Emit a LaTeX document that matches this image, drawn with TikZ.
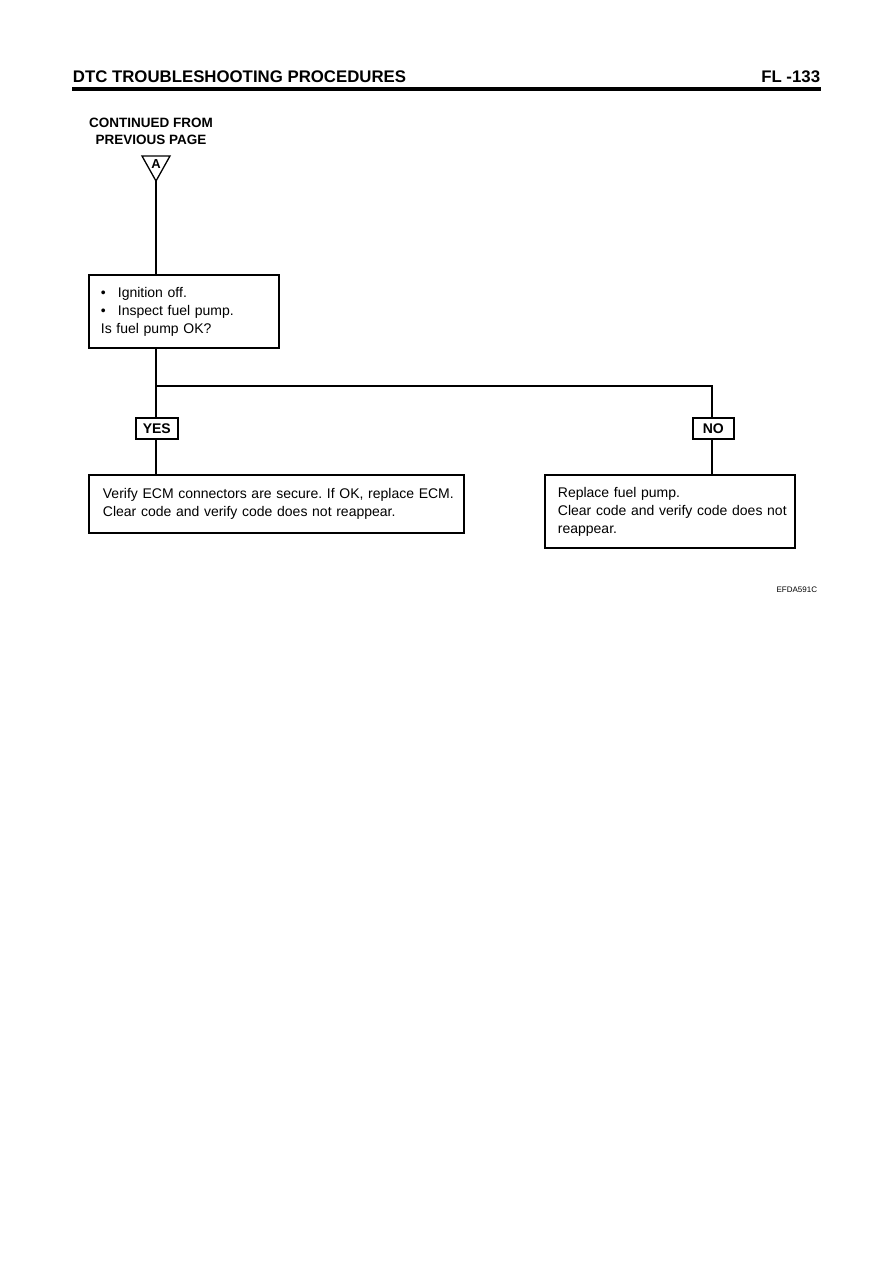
\documentclass[tikz,border=0pt]{standalone}
\usepackage{fontspec}
\setmainfont{Liberation Sans}
\frenchspacing
\begin{document}
\begin{tikzpicture}[x=1pt,y=-1pt,
  line width=1.8pt,
  box/.style={draw, line width=1.8pt, anchor=north west, inner xsep=0pt, inner ysep=0pt,
    font=\fontsize{14}{18}\selectfont, align=left},
  tag/.style={draw, line width=1.6pt, anchor=north west, inner sep=0pt,
    font=\fontsize{14}{14}\selectfont\bfseries},
  conn/.style={line width=1.8pt}]
\useasboundingbox[fill=white] (0,0) rectangle (893,1263);

% header
\node[anchor=base west, inner sep=0pt, font=\fontsize{16.8}{18}\selectfont\bfseries] (hdr) at (72,82) {DTC TROUBLESHOOTING PROCEDURES};
\node[anchor=base east, inner sep=0pt, font=\fontsize{16.8}{18}\selectfont\bfseries] (pg) at (821,82) {FL -133};
\coordinate (r1) at (72,89);
\coordinate (r2) at (821,89);
\draw[line width=3.5pt] (r1) -- (r2);

% continued from
\node[anchor=north, inner sep=0pt, align=center, font=\fontsize{13.5}{17}\selectfont\bfseries] (cont) at (151,117) {CONTINUED FROM\\PREVIOUS PAGE};

% connector triangle A
\coordinate (tl) at (142,156);
\coordinate (tr) at (170,156);
\coordinate (tp) at (156,181);
\draw[line width=1.3pt, line join=miter] (tl) -- (tr) -- (tp) -- cycle;
\node[inner sep=0pt, font=\fontsize{13}{13}\selectfont\bfseries] (A) at (156,164) {A};

% box 1
\node[box, minimum width=190pt, minimum height=73pt, text width=190pt] (b1) at (88,274)
  {\hspace*{12pt}\makebox[17pt][l]{\textbullet}Ignition off.\\
   \hspace*{12pt}\makebox[17pt][l]{\textbullet}Inspect fuel pump.\\
   \hspace*{12pt}Is fuel pump OK?};

% YES / NO tags
\node[tag, minimum width=42pt, minimum height=21pt] (yes) at (135,417) {YES};
\node[tag, minimum width=41pt, minimum height=21pt] (no) at (692,417) {NO};

% box 2
\node[box, minimum width=375pt, minimum height=58pt, text width=375pt] (b2) at (88,474)
  {\hspace*{14pt}Verify ECM connectors are secure. If OK, replace ECM.\\
   \hspace*{14pt}Clear code and verify code does not reappear.};

% box 3
\node[box, minimum width=250pt, minimum height=73pt, text width=250pt] (b3) at (544,474)
  {\hspace*{13pt}Replace fuel pump.\\
   \hspace*{13pt}Clear code and verify code does not\\
   \hspace*{13pt}reappear.};

% connectors
\coordinate (split) at (156,386);
\coordinate (corner) at (712,386);
\draw[conn] (tp) -- (b1.north -| tp);
\draw[conn] (b1.south -| split) -- (yes.north -| split);
\draw[conn] (yes.south -| split) -- (b2.north -| split);
\draw[conn, line join=miter] (split) -- (corner) -- (no.north -| corner);
\draw[conn] (no.south -| corner) -- (b3.north -| corner);

% figure code
\node[anchor=base east, inner sep=0pt, font=\fontsize{8}{8}\selectfont] (code) at (818,592) {EFDA591C};
\end{tikzpicture}
\end{document}
